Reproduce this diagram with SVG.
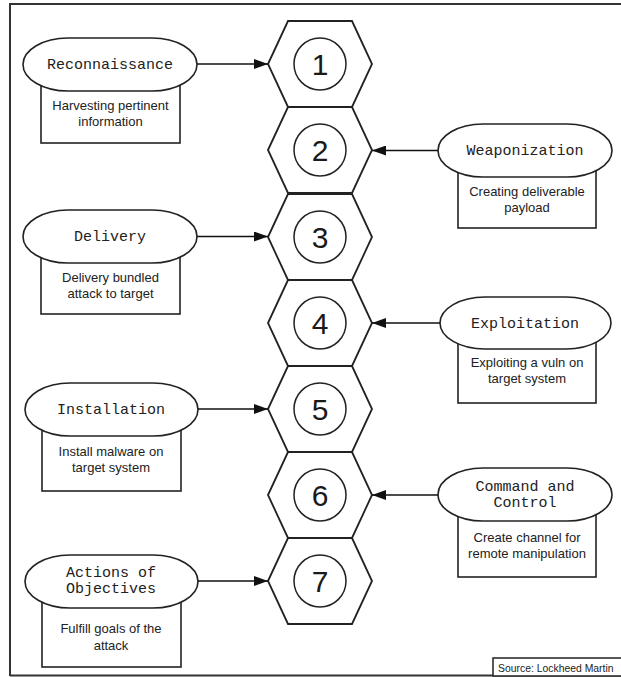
<svg xmlns="http://www.w3.org/2000/svg" width="621" height="677" viewBox="0 0 621 677">
<defs>
<marker id="ah" markerWidth="14" markerHeight="10" refX="14" refY="5" orient="auto" markerUnits="userSpaceOnUse">
<path d="M0,0 L14,5 L0,10 Z" fill="#111"/>
</marker>
<style>
.hex{fill:#fff;stroke:#222;stroke-width:1.8}
.circ{fill:#fff;stroke:#222;stroke-width:1.5}
.num{font-family:"Liberation Sans",Arial,sans-serif;font-size:30px;fill:#1a1a1a;text-anchor:middle}
.stad{fill:#fff;stroke:#222;stroke-width:1.6}
.box{fill:#fff;stroke:#222;stroke-width:1.6}
.lbl{font-family:"Liberation Mono","Courier New",monospace;font-size:15px;fill:#222;text-anchor:middle}
.desc{font-family:"Liberation Sans",Arial,sans-serif;font-size:13px;fill:#222;text-anchor:middle}
.conn{stroke:#111;stroke-width:1.6;fill:none;marker-end:url(#ah)}
</style>
</defs>
<rect x="0" y="0" width="621" height="677" fill="#fff"/>
<path d="M10,676 L10,4 L625,4" fill="none" stroke="#333" stroke-width="2"/>
<line x1="10" y1="675.5" x2="625" y2="675.5" stroke="#333" stroke-width="2"/>

<g id="hex1"><polygon class="hex" points="268,64 288,21 352,21 372,64 352,107 288,107"/><circle class="circ" cx="320" cy="64" r="26"/><text class="num" x="320" y="75">1</text></g>
<g id="hex2"><polygon class="hex" points="268,150 288,107 352,107 372,150 352,193 288,193"/><circle class="circ" cx="320" cy="150" r="26"/><text class="num" x="320" y="161">2</text></g>
<g id="hex3"><polygon class="hex" points="268,237 288,194 352,194 372,237 352,280 288,280"/><circle class="circ" cx="320" cy="237" r="26"/><text class="num" x="320" y="248">3</text></g>
<g id="hex4"><polygon class="hex" points="268,323 288,280 352,280 372,323 352,366 288,366"/><circle class="circ" cx="320" cy="323" r="26"/><text class="num" x="320" y="334">4</text></g>
<g id="hex5"><polygon class="hex" points="268,409 288,366 352,366 372,409 352,452 288,452"/><circle class="circ" cx="320" cy="409" r="26"/><text class="num" x="320" y="420">5</text></g>
<g id="hex6"><polygon class="hex" points="268,495 288,452 352,452 372,495 352,538 288,538"/><circle class="circ" cx="320" cy="495" r="26"/><text class="num" x="320" y="506">6</text></g>
<g id="hex7"><polygon class="hex" points="268,581 288,538 352,538 372,581 352,624 288,624"/><circle class="circ" cx="320" cy="581" r="26"/><text class="num" x="320" y="592">7</text></g>

<g id="reconnaissance">
<rect class="box" x="41" y="80" width="139" height="63"/>
<rect class="stad" x="23" y="38" width="174" height="53" rx="45" ry="26.5"/>
<text class="lbl" x="110" y="69">Reconnaissance</text>
<text class="desc" x="110.5" y="110">Harvesting pertinent</text>
<text class="desc" x="110.5" y="126">information</text>
</g>
<g id="weaponization">
<rect class="box" x="458" y="165" width="138" height="63"/>
<rect class="stad" x="438" y="124" width="174" height="53" rx="45" ry="26.5"/>
<text class="lbl" x="525" y="155">Weaponization</text>
<text class="desc" x="527" y="196">Creating deliverable</text>
<text class="desc" x="527" y="212">payload</text>
</g>
<g id="delivery">
<rect class="box" x="41" y="252" width="139" height="62"/>
<rect class="stad" x="23" y="210" width="174" height="53" rx="45" ry="26.5"/>
<text class="lbl" x="110" y="241">Delivery</text>
<text class="desc" x="110.5" y="282">Delivery bundled</text>
<text class="desc" x="110.5" y="298">attack to target</text>
</g>
<g id="exploitation">
<rect class="box" x="458" y="338" width="138" height="65"/>
<rect class="stad" x="440" y="297" width="171" height="52" rx="45" ry="26"/>
<text class="lbl" x="525" y="328">Exploitation</text>
<text class="desc" x="527" y="367">Exploiting a vuln on</text>
<text class="desc" x="527" y="383">target system</text>
</g>
<g id="installation">
<rect class="box" x="42" y="425" width="139" height="66"/>
<rect class="stad" x="25" y="383" width="173" height="53" rx="45" ry="26.5"/>
<text class="lbl" x="111" y="414">Installation</text>
<text class="desc" x="111" y="456">Install malware on</text>
<text class="desc" x="111" y="472">target system</text>
</g>
<g id="command-and-control">
<rect class="box" x="458" y="510" width="138" height="67"/>
<rect class="stad" x="438" y="468" width="174" height="53" rx="45" ry="26.5"/>
<text class="lbl" x="525" y="491">Command and</text>
<text class="lbl" x="525" y="507">Control</text>
<text class="desc" x="527" y="542">Create channel for</text>
<text class="desc" x="527" y="558">remote manipulation</text>
</g>
<g id="actions-of-objectives">
<rect class="box" x="42" y="596" width="139" height="71"/>
<rect class="stad" x="25" y="555" width="173" height="53" rx="45" ry="26.5"/>
<text class="lbl" x="111" y="577">Actions of</text>
<text class="lbl" x="111" y="593">Objectives</text>
<text class="desc" x="111" y="633">Fulfill goals of the</text>
<text class="desc" x="111" y="650">attack</text>
</g>

<g id="connectors">
<line class="conn" x1="197" y1="64" x2="268" y2="64"/>
<line class="conn" x1="438" y1="150.5" x2="372" y2="150.5"/>
<line class="conn" x1="197" y1="236.5" x2="268" y2="236.5"/>
<line class="conn" x1="440" y1="323" x2="372" y2="323"/>
<line class="conn" x1="198" y1="409" x2="268" y2="409"/>
<line class="conn" x1="438" y1="495" x2="372" y2="495"/>
<line class="conn" x1="198" y1="581" x2="268" y2="581"/>
</g>

<g id="source">
<rect x="493" y="658" width="140" height="18" fill="#fff" stroke="#222" stroke-width="1.5"/>
<text x="498" y="671.5" font-family="'Liberation Sans',Arial,sans-serif" font-size="10.4" fill="#222">Source: Lockheed Martin</text>
</g>
</svg>
